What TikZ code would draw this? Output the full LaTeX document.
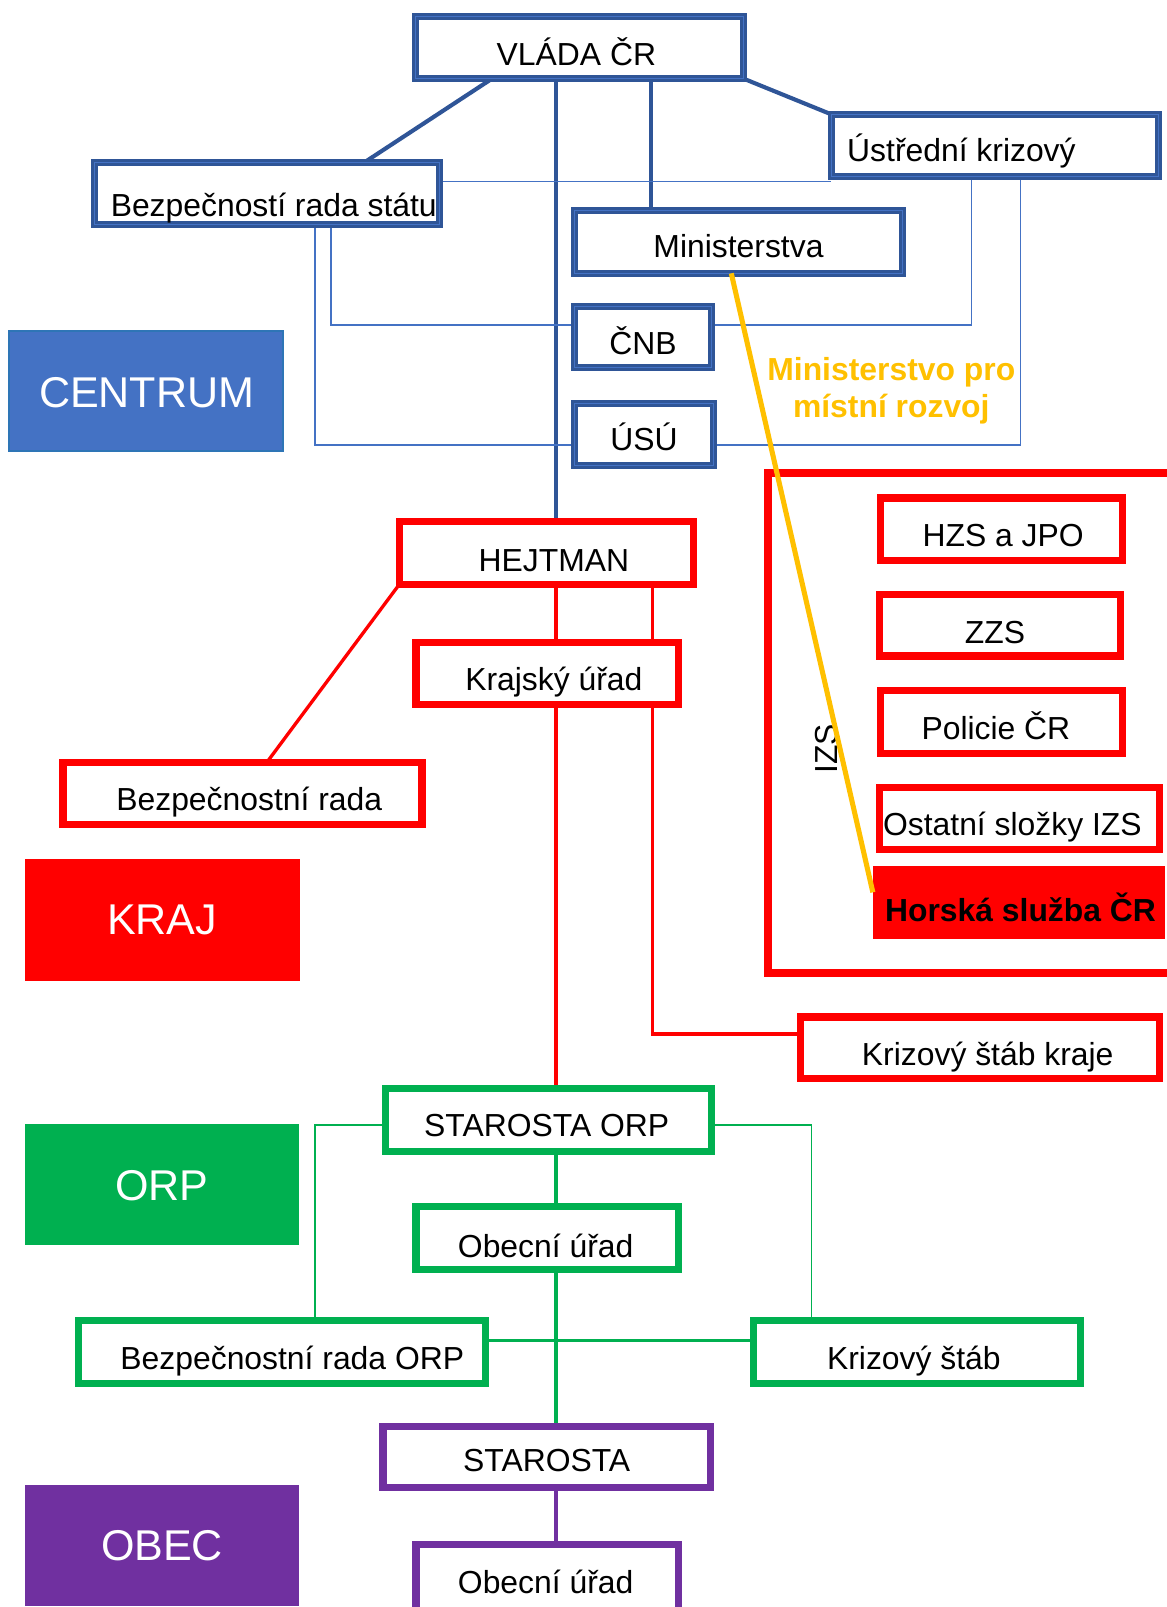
\documentclass[tikz,border=0pt]{standalone}
\usepackage{fontspec}
\setmainfont{Liberation Sans}
\usetikzlibrary{backgrounds}
\definecolor{bluedark}{RGB}{47,85,151}
\definecolor{bluemid}{RGB}{68,114,196}
\definecolor{bluebord}{RGB}{46,117,182}
\definecolor{myred}{RGB}{255,0,0}
\definecolor{mygreen}{RGB}{0,176,80}
\definecolor{mypurple}{RGB}{112,48,160}
\definecolor{myyellow}{RGB}{255,192,0}
\newcommand\mybox[6]{\node[#1, minimum width={(#5-#3-7)*0.7692pt}, minimum height={(#6-#4-7)*0.7692pt}] (#2) at ({(#3+#5)/2},{(#4+#6)/2}) {};}
\newcommand\myfbox[6]{\node[#1, minimum width={(#5-#3)*0.7692pt}, minimum height={(#6-#4)*0.7692pt}] (#2) at ({(#3+#5)/2},{(#4+#6)/2}) {};}
\tikzset{
  x=0.7692pt, y=-0.7692pt,
  base/.style={rectangle, inner sep=0pt, outer sep=0pt},
  bluebox/.style={base, draw=bluedark, line width=2.2pt, double=bluemid, double distance=0.8pt, fill=white},
  redbox/.style={base, draw=myred, line width=5.4pt, fill=white},
  greenbox/.style={base, draw=mygreen, line width=5.4pt, fill=white},
  purplebox/.style={base, draw=mypurple, line width=5.4pt, fill=white},
  levelbox/.style={base, fill=#1, draw=#1},
  lbl/.style={inner sep=0pt, outer sep=0pt, anchor=base, font=\fontsize{23.9pt}{28.7pt}\selectfont},
  lblw/.style={lbl, anchor=base west},
  boldlbl/.style={lbl, font=\fontsize{23.9pt}{28.7pt}\selectfont\bfseries},
  biglbl/.style={inner sep=0pt, outer sep=0pt, anchor=base, text=white, font=\fontsize{32.3pt}{38pt}\selectfont},
  bluethick/.style={draw=bluedark, line width=3.1pt},
  bluethin/.style={draw=bluemid, line width=1.2pt},
  redline/.style={draw=myred, line width=2.5pt},
  greenthick/.style={draw=mygreen, line width=2.7pt},
  greenthin/.style={draw=mygreen, line width=1.2pt},
  greenmid/.style={draw=mygreen, line width=1.7pt},
  purpleline/.style={draw=mypurple, line width=2.5pt},
  yellowline/.style={draw=myyellow, line width=3.8pt},
}
\begin{document}
\begin{tikzpicture}
\useasboundingbox (0,0) rectangle (1137.8,1566.8);
% helper coordinates
\coordinate (x260) at (260,0);
\coordinate (x307) at (307,0);
\coordinate (x323) at (323,0);
\coordinate (x355) at (355,0);
\coordinate (x480) at (480,0);
\coordinate (x542) at (542,0);
\coordinate (x635) at (635,0);
\coordinate (x636) at (636,0);
\coordinate (x713) at (713,0);
\coordinate (x791) at (791,0);
\coordinate (x947) at (947,0);
\coordinate (x995) at (995,0);
\coordinate (y177) at (0,177);
\coordinate (y317) at (0,317);
\coordinate (y434) at (0,434);
\coordinate (y870) at (0,870);
\coordinate (y1008) at (0,1008);
\coordinate (y1097) at (0,1097);
\coordinate (y1307) at (0,1307);

% ---------- level boxes ----------
\myfbox{levelbox=bluemid, draw=bluebord, line width=1.5pt}{centrum}{9}{323}{276}{440}
\myfbox{levelbox=myred}{kraj}{25}{838}{292}{956}
\myfbox{levelbox=mygreen}{orp}{25}{1096}{291}{1213}
\myfbox{levelbox=mypurple}{obec}{25}{1448}{291}{1565}

% ---------- centrum boxes ----------
\mybox{bluebox}{vlada}{402}{13}{728}{80}
\mybox{bluebox}{bzs}{89}{155}{432}{222}
\mybox{bluebox}{ukr}{807}{108}{1133}{176}
\mybox{bluebox}{min}{557}{202}{883}{270}
\mybox{bluebox}{cnb}{557}{295}{697}{362}
\mybox{bluebox}{usu}{557}{390}{699}{457}

% ---------- kraj boxes ----------
\mybox{redbox, line width=6pt}{izs}{745}{458}{1190}{952}
\mybox{redbox}{hzs}{855}{482}{1098}{550}
\mybox{redbox}{zzs}{854}{576}{1096}{643}
\mybox{redbox}{pol}{855}{670}{1098}{738}
\mybox{redbox}{ost}{854}{764}{1134}{832}
\myfbox{levelbox=myred}{hsl}{851}{845}{1135}{915}
\mybox{redbox}{hej}{386}{505}{680}{573}
\mybox{redbox}{kru}{402}{623}{665}{690}
\mybox{redbox}{bzr}{58}{740}{415}{807}
\mybox{redbox}{ksk}{777}{988}{1134}{1055}

% ---------- ORP boxes ----------
\mybox{greenbox}{sorp}{372}{1058}{697}{1126}
\mybox{greenbox}{ou1}{402}{1173}{665}{1241}
\mybox{greenbox}{bro}{73}{1284}{477}{1352}
\mybox{greenbox}{ks}{731}{1284}{1057}{1352}

% ---------- obec boxes ----------
\mybox{purplebox}{star}{370}{1387}{696}{1454}
\mybox{purplebox}{ou2}{402}{1502}{665}{1630}

% ---------- connectors ----------
\begin{pgfonlayer}{background}
\draw[bluethick] (vlada.south -| x480) -- (bzs.north -| x355);
\draw[bluethick] (vlada.south east) -- (ukr.north west);
\draw[bluethick] (vlada.south -| x542) -- (hej.north -| x542);
\draw[bluethick] (vlada.south -| x635) -- (min.north -| x635);
\draw[bluethin] (bzs.east |- y177) -- (ukr.west |- y177);
\draw[bluethin] (bzs.south -| x323) -- (x323 |- y317) -- (cnb.west |- y317);
\draw[bluethin] (cnb.east |- y317) -- (x947 |- y317) -- (ukr.south -| x947);
\draw[bluethin] (bzs.south -| x307) -- (x307 |- y434) -- (usu.west |- y434);
\draw[bluethin] (usu.east |- y434) -- (x995 |- y434) -- (ukr.south -| x995);
\draw[redline] (hej.south west) -- (bzr.north -| x260);
\draw[redline] (hej.south -| x542) -- (kru.north -| x542);
\draw[redline] (hej.south -| x636) -- (kru.north -| x636);
\draw[redline] (kru.south -| x542) -- (sorp.north -| x542);
\draw[redline] (kru.south -| x636) -- (x636 |- y1008) -- (ksk.west |- y1008);
\draw[greenthick] (sorp.south -| x542) -- (ou1.north -| x542);
\draw[greenthick] (ou1.south -| x542) -- (star.north -| x542);
\draw[greenthin] (sorp.west |- y1097) -- (x307 |- y1097) -- (bro.north -| x307);
\draw[greenthin] (sorp.east |- y1097) -- (x791 |- y1097) -- (ks.north -| x791);
\draw[greenmid] (bro.east |- y1307) -- (ks.west |- y1307);
\draw[purpleline] (star.south -| x542) -- (ou2.north -| x542);
\end{pgfonlayer}

% ---------- texts ----------
\node[biglbl] (tcentrum) at (143,397) {CENTRUM};
\node[biglbl] (tkraj) at (158,911) {KRAJ};
\node[biglbl] (torp) at (158,1170) {ORP};
\node[biglbl] (tobec) at (158,1521) {OBEC};

\node[lbl] (tvlada) at (562,64) {VLÁDA ČR};
\node[lblw] (tbzs) at (108,211) {Bezpečností rada státu};
\node[lblw] (tukr) at (826,157) {Ústřední krizový};
\node[lbl] (tmin) at (720,251) {Ministerstva};
\node[lbl] (tcnb) at (627,346) {ČNB};
\node[lbl] (tusu) at (628,439) {ÚSÚ};
\node[boldlbl, text=myyellow] (tmmr1) at (869,371) {Ministerstvo pro};
\node[boldlbl, text=myyellow] (tmmr2) at (869,407) {místní rozvoj};

\node[lbl] (thzs) at (978,533) {HZS a JPO};
\node[lbl] (tzzs) at (970,627) {ZZS};
\node[lbl] (tpol) at (971,721) {Policie ČR};
\node[lblw] (tost) at (861,815) {Ostatní složky IZS};
\node[boldlbl] (thsl) at (995,898) {Horská služba ČR};
\node[lbl, anchor=center, rotate=90] (tizs) at (806,730) {IZS};
\node[lbl] (thej) at (540,557) {HEJTMAN};
\node[lbl] (tkru) at (540,673) {Krajský úřad};
\node[lbl] (tbzr) at (243,790) {Bezpečnostní rada};
\node[lbl] (tksk) at (963,1039) {Krizový štáb kraje};

\node[lbl] (tsorp) at (533,1108) {STAROSTA ORP};
\node[lbl] (tou1) at (532,1226) {Obecní úřad};
\node[lbl] (tbro) at (285,1335) {Bezpečnostní rada ORP};
\node[lbl] (tks) at (891,1335) {Krizový štáb};
\node[lbl] (tstar) at (533,1435) {STAROSTA};
\node[lbl] (tou2) at (532,1554) {Obecní úřad};

% ---------- yellow connector (on top) ----------
\draw[yellowline] (min.south -| x713) -- (hsl.west |- y870);
\end{tikzpicture}
\end{document}
